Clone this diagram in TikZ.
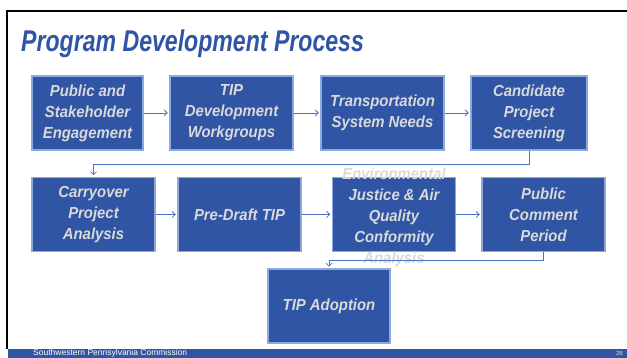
\documentclass[tikz,border=0pt]{standalone}
\usepackage{fontspec}
\setmainfont{Liberation Sans}
\newfontfamily\boxfont[FakeStretch=0.93]{Liberation Sans}
\newfontfamily\titlefont[FakeStretch=0.77]{Liberation Sans}
\usetikzlibrary{arrows.meta}
\definecolor{spcblue}{HTML}{2F55A4}
\definecolor{boxedge}{HTML}{8EA9DB}
\definecolor{boxtext}{HTML}{D9D9D9}
\definecolor{flowblue}{HTML}{4A72C2}
\tikzset{flow/.style={draw=flowblue, line width=0.8pt,
		-{Straight Barb[length=3pt,width=6pt]}, shorten >=1.5pt}}

\begin{document}
\begin{tikzpicture} [x=1pt, y=1pt, box/.style={draw=boxedge, line width=1.5pt, fill=spcblue, text=boxtext, minimum width=123pt, minimum height=74pt, inner sep=0pt, align=center, font=\boxfont\bfseries\itshape\fontsize{16}{21}\selectfont}, node distance=148pt]
	\useasboundingbox (0,0) rectangle (627,358);

	% slide frame and footer
	\draw[line width=2.5pt] (7,9) -- (7,347) -- (630,347);
	\fill[spcblue] (8,0) rectangle (627,9);
	\node[anchor=base west, text=white, inner sep=0pt, font=\fontsize{8.5}{10}\selectfont] (org) at (33,2) {Southwestern Pennsylvania Commission};
	\node[anchor=base east, text=boxtext, inner sep=0pt, font=\fontsize{6}{7}\selectfont] (page) at (623,2) {28};

	\node[anchor=base west, text=spcblue, inner sep=0pt, font=\titlefont\bfseries\itshape\fontsize{30}{36}\selectfont] (title) at (21,306) {Program Development Process};

	% first row
	\node[box, minimum width=111pt] (b1) at (87.5,245) {Public and\\Stakeholder\\Engagement};
	\node[box, right of=b1, node distance=144pt] (b2) {TIP\\Development\\Workgroups};
	\node[box, right of=b2, node distance=151pt] (b3) {Transportation\\System Needs};
	\node[box, right of=b3, node distance=146.5pt, minimum width=116pt] (b4) {Candidate\\Project\\Screening};

	% second row
	\node[box] (b5) at (93.5,143.5) {Carryover\\Project\\Analysis};
	\node[box, right of=b5, node distance=146pt] (b6) {Pre-Draft TIP};
	\node[box, right of=b6, node distance=154.5pt] (b7) {\smash{\raisebox{-7pt}{\begin{tabular}{@{}c@{}}Environmental\\Justice \& Air\\Quality\\Conformity\\Analysis\end{tabular}}}};
	\node[box, right of=b7, node distance=149.5pt] (b8) {Public\\Comment\\Period};

	% last step
	\node[box, minimum width=122pt] (b9) at (329,52) {TIP Adoption};

	\draw[flow] (b1) -- (b2);
	\draw[flow] (b2) -- (b3);
	\draw[flow] (b3) -- (b4);
	\draw[flow] (b4.south) -- ++(0,-14) -| (b5.north);
	\draw[flow] (b5) -- (b6);
	\draw[flow] (b6) -- (b7);
	\draw[flow] (b7) -- (b8);
	\draw[flow] (b8.south) -- ++(0,-8) -| (b9.north);
\end{tikzpicture}
\end{document}
